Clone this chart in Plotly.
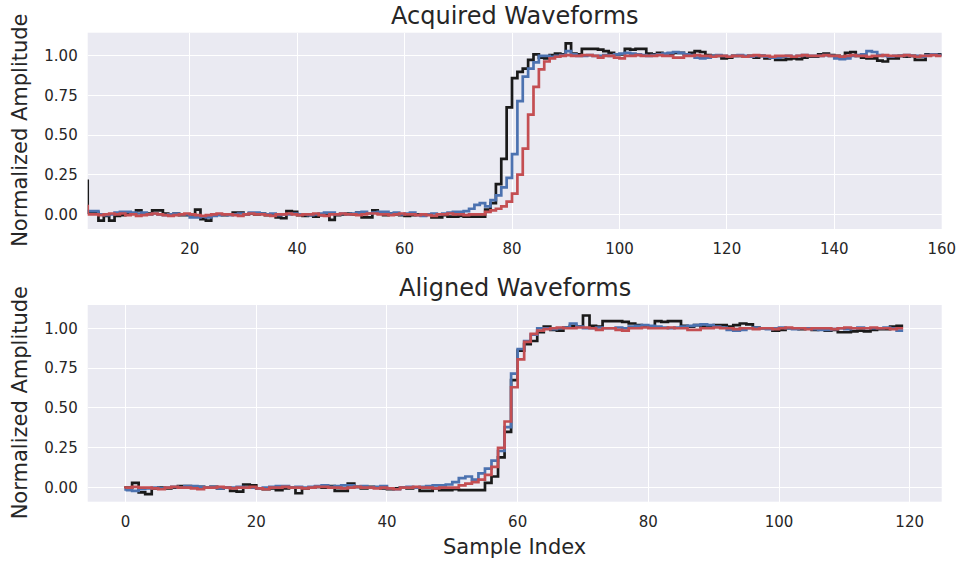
import plotly.graph_objects as go

# Sample positions of the acquired traces (1-based sample numbers)
acq_x = list(range(1, 161))

# Acquired traces, normalised amplitude per sample
acq_black = [
    0.22, 0.01, 0.01, -0.04, -0.01, -0.04, -0.01, -0.005, 0.0, 0.005,
    0.025, 0.0, 0.005, 0.025, 0.025, 0.005, 0.0, 0.005, -0.005, -0.005,
    0.0, 0.03, -0.03, -0.04, -0.005, 0.0, -0.005, 0.0, 0.01, 0.01,
    0.0, 0.005, 0.0, 0.005, -0.005, 0.0, -0.02, -0.025, 0.02, 0.015,
    -0.005, -0.01, -0.005, -0.015, -0.005, 0.0, -0.035, -0.005, 0.0, 0.005,
    0.0, 0.01, -0.02, -0.02, 0.025, 0.005, -0.005, 0.005, 0.0, -0.005,
    -0.01, -0.005, 0.0, -0.005, 0.0, -0.02, -0.02, -0.005, -0.015, -0.015,
    -0.01, -0.015, -0.015, -0.015, -0.015, 0.03, 0.07, 0.19, 0.35, 0.675,
    0.86, 0.90, 0.92, 0.975, 1.01, 0.99, 0.985, 1.005, 1.015, 1.01,
    1.08, 1.015, 1.01, 1.045, 1.045, 1.045, 1.04, 1.03, 1.02, 1.01,
    1.01, 1.045, 1.04, 1.045, 1.045, 1.015, 1.01, 1.02, 1.01, 1.015,
    1.02, 1.02, 1.01, 1.02, 1.03, 1.025, 1.005, 1.0, 1.0, 0.985,
    0.99, 1.0, 1.0, 0.995, 1.0, 0.99, 1.0, 0.985, 0.99, 0.975,
    0.975, 0.98, 0.985, 0.98, 0.99, 0.995, 0.995, 1.01, 1.015, 1.005,
    1.0, 0.995, 1.02, 1.025, 1.0, 0.99, 0.985, 0.985, 0.97, 0.965,
    0.985, 0.985, 1.0, 0.995, 1.0, 0.975, 0.975, 1.01, 1.01, 1.01,
]

acq_blue = [
    0.0, 0.02, 0.02, 0.0, -0.005, 0.0, 0.01, 0.015, 0.015, 0.01,
    0.005, 0.01, 0.0, 0.005, 0.0, -0.005, 0.0, 0.005, 0.0, 0.0,
    -0.02, -0.02, -0.015, -0.02, -0.01, -0.005, 0.0, -0.005, 0.0, 0.005,
    0.0, 0.01, 0.01, 0.005, 0.0, 0.005, -0.005, 0.0, 0.0, 0.005,
    0.0, 0.0, -0.005, 0.0, 0.005, 0.01, 0.01, 0.0, 0.005, 0.0,
    0.005, 0.01, 0.015, 0.005, 0.01, 0.015, 0.015, 0.005, 0.01, 0.0,
    0.005, 0.01, -0.005, -0.01, 0.0, 0.005, 0.0, 0.005, 0.01, 0.015,
    0.015, 0.02, 0.035, 0.06, 0.07, 0.05, 0.09, 0.12, 0.17, 0.23,
    0.38, 0.715, 0.87, 0.92, 0.96, 1.0, 1.0, 0.995, 1.0, 1.005,
    1.03, 1.01, 1.0, 1.0, 1.005, 1.0, 1.0, 1.005, 1.0, 1.01,
    1.015, 1.02, 1.015, 1.01, 1.005, 1.0, 1.005, 1.01, 1.015, 1.02,
    1.025, 1.02, 1.01, 1.005, 0.99, 0.985, 0.99, 1.0, 1.005, 1.0,
    0.995, 1.0, 1.005, 1.0, 0.995, 1.0, 1.0, 0.995, 0.99, 0.99,
    0.995, 1.0, 0.995, 1.0, 1.005, 1.0, 1.0, 1.0, 1.005, 1.0,
    0.985, 0.98, 0.985, 1.0, 1.005, 1.01, 1.03, 1.025, 1.005, 1.0,
    0.995, 1.0, 1.0, 1.005, 1.0, 1.0, 0.995, 1.005, 1.01, 1.005,
]

acq_red = [
    0.06, 0.0, 0.0, -0.005, 0.0, 0.005, 0.0, 0.005, -0.005, 0.0,
    -0.01, -0.005, 0.0, 0.005, 0.0, -0.005, -0.01, -0.005, 0.0, 0.005,
    0.0, -0.005, -0.01, -0.005, 0.0, 0.005, 0.0, 0.0, -0.005, -0.01,
    0.0, 0.005, 0.0, 0.0, -0.005, -0.01, 0.0, 0.0, 0.005, 0.0,
    -0.005, 0.0, 0.0, 0.005, -0.005, -0.01, 0.0, 0.0, 0.005, 0.0,
    0.0, -0.005, 0.0, 0.005, 0.005, 0.0, 0.0, -0.005, 0.0, 0.005,
    0.0, 0.0, -0.005, 0.0, -0.005, -0.01, 0.0, 0.0, 0.005, 0.0,
    0.0, -0.005, 0.0, 0.0, 0.0, 0.015, 0.025, 0.035, 0.05, 0.08,
    0.13, 0.25, 0.415, 0.63, 0.805, 0.915, 0.965, 0.985, 0.995, 1.0,
    1.005, 1.0, 1.0, 1.005, 1.005, 1.0, 0.99, 1.0, 1.0, 0.99,
    0.985, 1.0, 1.0, 1.005, 1.0, 1.0, 1.0, 1.005, 1.0, 1.0,
    0.99, 0.99, 1.0, 1.0, 1.005, 1.0, 1.0, 0.995, 1.0, 1.0,
    0.995, 1.0, 1.0, 0.995, 1.0, 1.005, 1.0, 1.0, 0.995, 1.0,
    1.0, 1.0, 0.995, 1.0, 1.005, 1.0, 1.0, 1.0, 1.005, 1.0,
    1.0, 0.995, 1.0, 1.005, 1.0, 1.0, 0.995, 1.0, 1.0, 1.005,
    1.0, 1.0, 1.0, 1.005, 1.0, 0.995, 1.0, 1.0, 1.005, 1.0,
]

# Integer lag (in samples) that aligns each trace, and aligned window length
align_lag_black = 20
align_lag_blue = 22
align_lag_red = 24
aligned_len = 120
aligned_x = list(range(aligned_len))


def aligned(trace, lag):
    start = lag - acq_x[0]
    return trace[start:start + aligned_len]


COLORS = {"black": "#1a1a1a", "blue": "#4C72B0", "red": "#C44E52"}
LINE_W = 2.7
TEXT = "#262626"
FONT = "DejaVu Sans"
BG = "#EAEAF2"

fig = go.Figure()

series = [
    ("black", acq_black, align_lag_black),
    ("blue", acq_blue, align_lag_blue),
    ("red", acq_red, align_lag_red),
]

for name, trace, lag in series:
    fig.add_trace(go.Scatter(
        x=acq_x, y=trace, mode="lines",
        line=dict(color=COLORS[name], width=LINE_W, shape="vh"),
        xaxis="x", yaxis="y", showlegend=False, hoverinfo="skip",
    ))

for name, trace, lag in series:
    fig.add_trace(go.Scatter(
        x=aligned_x, y=aligned(trace, lag), mode="lines",
        line=dict(color=COLORS[name], width=LINE_W, shape="vh"),
        xaxis="x2", yaxis="y2", showlegend=False, hoverinfo="skip",
    ))

W, H = 960, 561
x_dom = [87.7 / W, 941.7 / W]
top_dom = [(H - 229) / H, (H - 32.7) / H]
bot_dom = [(H - 501.7) / H, (H - 305) / H]

axis_common = dict(
    showline=False, zeroline=False, ticks="", automargin=False,
    showgrid=True, gridcolor="white", gridwidth=1.4,
    tickfont=dict(family=FONT, size=15, color=TEXT),
)

yticks = [0.0, 0.25, 0.5, 0.75, 1.0]

fig.update_layout(
    width=W, height=H,
    margin=dict(l=0, r=0, t=0, b=0),
    paper_bgcolor="white",
    plot_bgcolor=BG,
    font=dict(family=FONT, color=TEXT),
    xaxis=dict(domain=x_dom, anchor="y", range=[1, 160],
               tickvals=[20, 40, 60, 80, 100, 120, 140, 160],
               ticklabelstandoff=9, **axis_common),
    yaxis=dict(domain=top_dom, anchor="x", range=[-0.093, 1.147],
               tickvals=yticks, tickformat=".2f",
               ticklabelstandoff=9, **axis_common),
    xaxis2=dict(domain=x_dom, anchor="y2", range=[-5.8, 124.9],
                tickvals=[0, 20, 40, 60, 80, 100, 120],
                ticklabelstandoff=9, **axis_common),
    yaxis2=dict(domain=bot_dom, anchor="x2", range=[-0.088, 1.146],
                tickvals=yticks, tickformat=".2f",
                ticklabelstandoff=9, **axis_common),
)

x_mid = (x_dom[0] + x_dom[1]) / 2
annotations = [
    dict(text="Acquired Waveforms", x=x_mid, y=top_dom[1], xref="paper", yref="paper",
         xanchor="center", yanchor="bottom", yshift=1, showarrow=False,
         font=dict(family=FONT, size=24, color=TEXT)),
    dict(text="Aligned Waveforms", x=x_mid, y=bot_dom[1], xref="paper", yref="paper",
         xanchor="center", yanchor="bottom", yshift=1, showarrow=False,
         font=dict(family=FONT, size=24, color=TEXT)),
    dict(text="Normalized Amplitude", x=20 / W, y=(top_dom[0] + top_dom[1]) / 2,
         xref="paper", yref="paper", xanchor="center", yanchor="middle",
         textangle=-90, showarrow=False, font=dict(family=FONT, size=21, color=TEXT)),
    dict(text="Normalized Amplitude", x=20 / W, y=(bot_dom[0] + bot_dom[1]) / 2,
         xref="paper", yref="paper", xanchor="center", yanchor="middle",
         textangle=-90, showarrow=False, font=dict(family=FONT, size=21, color=TEXT)),
    dict(text="Sample Index", x=x_mid, y=(H - 547) / H, xref="paper", yref="paper",
         xanchor="center", yanchor="middle", showarrow=False,
         font=dict(family=FONT, size=21, color=TEXT)),
]
fig.update_layout(annotations=annotations)

fig.write_html("out.html")
